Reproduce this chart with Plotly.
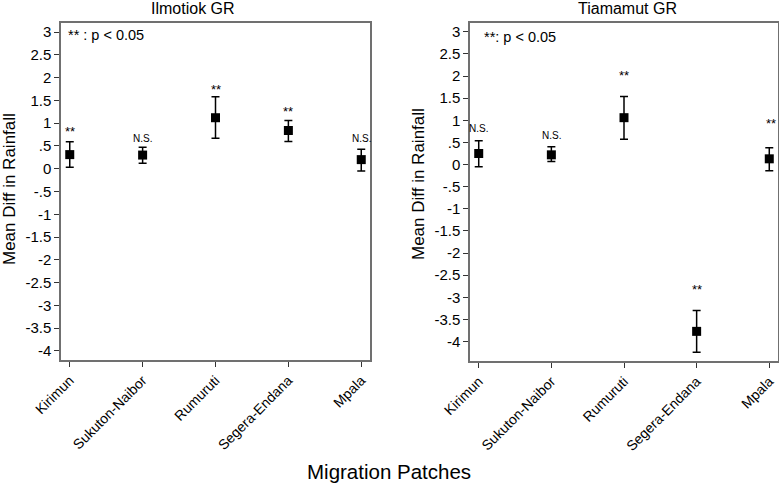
import plotly.graph_objects as go

patches = ["Kirimun", "Sukuton-Naibor", "Rumuruti", "Segera-Endana", "Mpala"]

# Ilmotiok GR
ilm_mean = [0.31, 0.30, 1.12, 0.84, 0.20]
ilm_upper = [0.59, 0.47, 1.58, 1.06, 0.43]
ilm_lower = [0.03, 0.12, 0.67, 0.60, -0.05]
ilm_sig = ["**", "N.S.", "**", "**", "N.S."]
ilm_sig_y = [0.81, 0.67, 1.75, 1.25, 0.67]

# Tiamamut GR
tia_mean = [0.25, 0.22, 1.06, -3.77, 0.13]
tia_upper = [0.54, 0.40, 1.54, -3.30, 0.38]
tia_lower = [-0.05, 0.07, 0.57, -4.24, -0.14]
tia_sig = ["N.S.", "N.S.", "**", "**", "**"]
tia_sig_y = [0.81, 0.65, 2.01, -2.82, 0.92]

ytick_vals = [3, 2.5, 2, 1.5, 1, 0.5, 0, -0.5, -1, -1.5, -2, -2.5, -3, -3.5, -4]
ytick_text = ["3", "2.5", "2", "1.5", "1", ".5", "0", "-.5", "-1", "-1.5",
              "-2", "-2.5", "-3", "-3.5", "-4"]

FONT = "Liberation Sans, Arial, Helvetica, sans-serif"
W, H = 779, 488


def px_x(p):
    return p / W


def px_y(p):
    return 1 - p / H


fig = go.Figure()


def add_panel(mean, upper, lower, xa, ya):
    fig.add_trace(go.Scatter(
        x=patches, y=mean, mode="markers",
        marker=dict(symbol="square", size=9, color="black"),
        error_y=dict(type="data", symmetric=False,
                     array=[u - m for u, m in zip(upper, mean)],
                     arrayminus=[m - l for m, l in zip(mean, lower)],
                     color="black", thickness=1.5, width=4),
        xaxis=xa, yaxis=ya, showlegend=False, hoverinfo="skip"))


add_panel(ilm_mean, ilm_upper, ilm_lower, "x", "y")
add_panel(tia_mean, tia_upper, tia_lower, "x2", "y2")

axis_common = dict(showline=True, linecolor="#707070", linewidth=1.5, mirror=True,
                   ticks="outside", ticklen=5, tickwidth=1, tickcolor="#333333",
                   showgrid=False, zeroline=False, automargin=False,
                   tickfont=dict(family=FONT, size=14, color="black"))

yaxis_font = dict(family=FONT, size=15, color="black")

fig.update_layout(
    width=W, height=H, plot_bgcolor="white", paper_bgcolor="white",
    margin=dict(l=0, r=0, t=0, b=0),
    xaxis=dict(axis_common, domain=[px_x(61), px_x(370)], anchor="y",
               type="category", categoryorder="array", categoryarray=patches,
               range=[-0.12, 4.12], tickangle=-45),
    yaxis=dict(axis_common, domain=[px_y(360), px_y(23)], anchor="x",
               range=[-4.2, 3.2], tickvals=ytick_vals, ticktext=ytick_text,
               tickfont=yaxis_font),
    xaxis2=dict(axis_common, domain=[px_x(470), px_x(778)], anchor="y2",
                type="category", categoryorder="array", categoryarray=patches,
                range=[-0.12, 4.12], tickangle=-45),
    yaxis2=dict(axis_common, domain=[px_y(361), px_y(23)], anchor="x2",
                range=[-4.44, 3.2], tickvals=ytick_vals, ticktext=ytick_text,
                tickfont=yaxis_font),
)

ann = []
for cat, s, yv in zip(patches, ilm_sig, ilm_sig_y):
    ann.append(dict(x=cat, y=yv, xref="x", yref="y", text=s, showarrow=False,
                    xanchor="center", yanchor="middle",
                    font=dict(family=FONT, size=13 if s == "**" else 10, color="black")))
for i, (cat, s, yv) in enumerate(zip(patches, tia_sig, tia_sig_y)):
    ann.append(dict(x=cat, y=yv, xref="x2", yref="y2", text=s, showarrow=False,
                    xanchor="center", yanchor="middle",
                    xshift=2 if i == 4 else 0,
                    font=dict(family=FONT, size=13 if s == "**" else 10, color="black")))


def paper_text(xp, yp, text, size, xanchor="center", angle=0):
    ann.append(dict(x=px_x(xp), y=px_y(yp), xref="paper", yref="paper", text=text,
                    xanchor=xanchor, yanchor="middle", textangle=angle, showarrow=False,
                    font=dict(family=FONT, size=size, color="black")))


# panel titles
paper_text(193, 9, "Ilmotiok GR", 16)
paper_text(627, 9, "Tiamamut GR", 16)
# p-value notes
paper_text(66, 35, "** : p < 0.05", 14.5, xanchor="left")
paper_text(482, 37, "**: p < 0.05", 14.5, xanchor="left")
# y-axis titles
paper_text(9, 189, "Mean Diff in Rainfall", 17, angle=-90)
paper_text(418, 184, "Mean Diff in Rainfall", 17, angle=-90)
# x-axis title
paper_text(389, 471, "Migration Patches", 20.5)

fig.update_layout(annotations=ann)
fig.write_html("out.html", config={"displayModeBar": False},
               post_script="document.body.style.margin='0';")
